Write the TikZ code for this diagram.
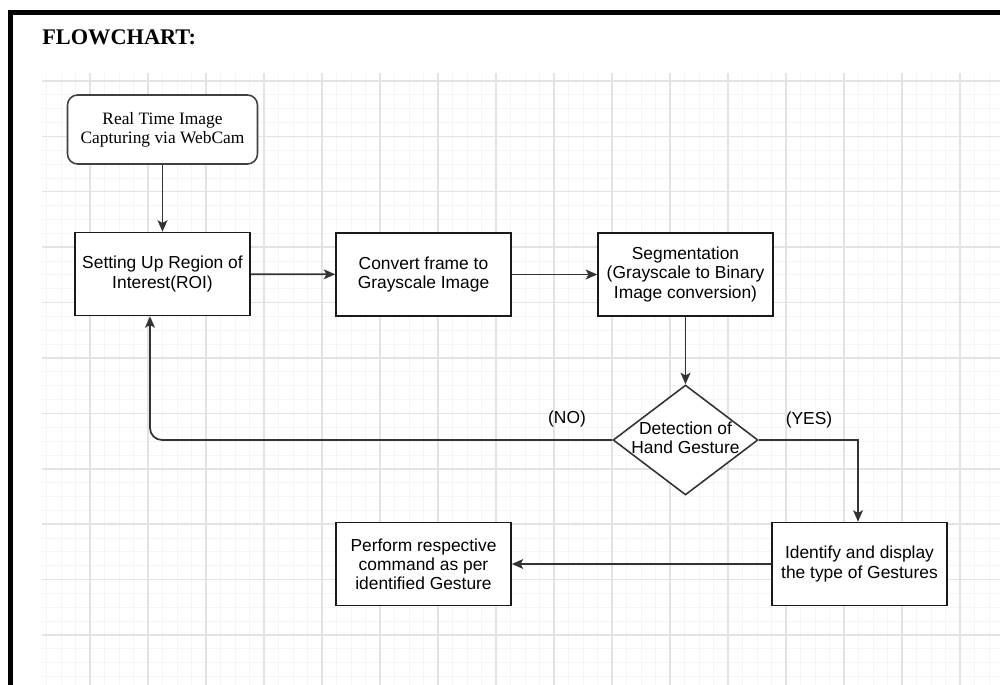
\documentclass[tikz,border=0pt]{standalone}
\usepackage{fontspec}
\setmainfont{Liberation Serif}
\newfontfamily\arialfont{Liberation Sans}
\usetikzlibrary{arrows.meta,shapes.geometric}

\definecolor{gridmajor}{HTML}{E3E3E3}
\definecolor{gridminor}{HTML}{F5F5F5}
\definecolor{edgegray}{HTML}{333333}

\tikzset{
	block/.style={draw=black!90, line width=0.9pt, fill=white, minimum width=3.5cm,
		minimum height=1.66cm, align=center, inner sep=1pt,
		font=\arialfont\fontsize{9.9}{10.9}\selectfont},
	startbox/.style={block, draw=black!75, rounded corners=0.2cm, minimum width=3.8cm, minimum height=1.38cm,
		font=\fontsize{9.9}{10.9}\selectfont},
	decision/.style={draw=edgegray, line width=0.9pt, fill=white, diamond, inner sep=0pt,
		minimum width=2.9cm, minimum height=2.2cm},
	flow/.style={draw=edgegray, line width=1pt, -{Stealth[length=6.5pt,width=5.6pt,inset=1.5pt]}},
	edgelabel/.style={font=\arialfont\fontsize{9.9}{10.9}\selectfont}
}

\begin{document}
\begin{tikzpicture}[x=0.02cm, y=-0.02cm]
	\useasboundingbox (0,0) rectangle (1000,685);
	
	% grid
	\begin{scope}
		\clip (42,73) rectangle (1000,685);
		\foreach \gx in {46.5,61,...,1000}
			\draw[gridminor, line width=0.5pt] (\gx,73) -- (\gx,685);
		\foreach \gy in {81,94.85,...,685}
			\draw[gridminor, line width=0.5pt] (42,\gy) -- (1000,\gy);
		\foreach \gx in {90,148,...,1000}
			\draw[gridmajor, line width=0.8pt] (\gx,73) -- (\gx,685);
		\foreach \gy in {81,136.4,...,690}
			\draw[gridmajor, line width=0.8pt] (42,\gy) -- (1000,\gy);
	\end{scope}
	
	% frame and title
	\draw[line width=2.85pt] (10.5,685) -- (10.5,12.5) -- (1000,12.5);
	\node[anchor=base west, inner sep=0pt, font=\bfseries\fontsize{12.7}{14}\selectfont] (title) at (42,45) {FLOWCHART:};
	
	% boxes
	\node[startbox] (capture) at (162.5,129.5) {Real Time Image\\Capturing via WebCam};
	\node[block] (roi) at (162.5,274) {Setting Up Region of\\Interest(ROI)};
	\node[block] (convert) at (423.5,274.5) {Convert frame to\\Grayscale Image};
	\node[block] (segment) at (685.5,274.5) {Segmentation\\(Grayscale to Binary\\Image conversion)};
	\node[decision, label={[edgelabel, align=center, yshift=0.04cm]center:Detection of\\Hand Gesture}] (detect) at (685.5,440) {};
	\node[block] (identify) at (859.5,564) {Identify and display\\the type of Gestures};
	\node[block] (perform) at (423.5,564) {Perform respective\\command as per\\identified Gesture};
	
	% arrows
	\draw[flow] (capture) -- (roi);
	\draw[flow] (roi) -- (convert);
	\draw[flow] (convert) -- (segment);
	\draw[flow] (segment) -- (detect);
	\draw[flow, rounded corners=0.24cm] (detect.west) -| ([xshift=-0.25cm]roi.south);
	\draw[flow] (detect.east) -| ([xshift=-0.03cm]identify.north);
	\draw[flow] (identify) -- (perform);
	
	\node[edgelabel] (no) at (567,419) {(NO)};
	\node[edgelabel] (yes) at (809,420) {(YES)};
\end{tikzpicture}
\end{document}
